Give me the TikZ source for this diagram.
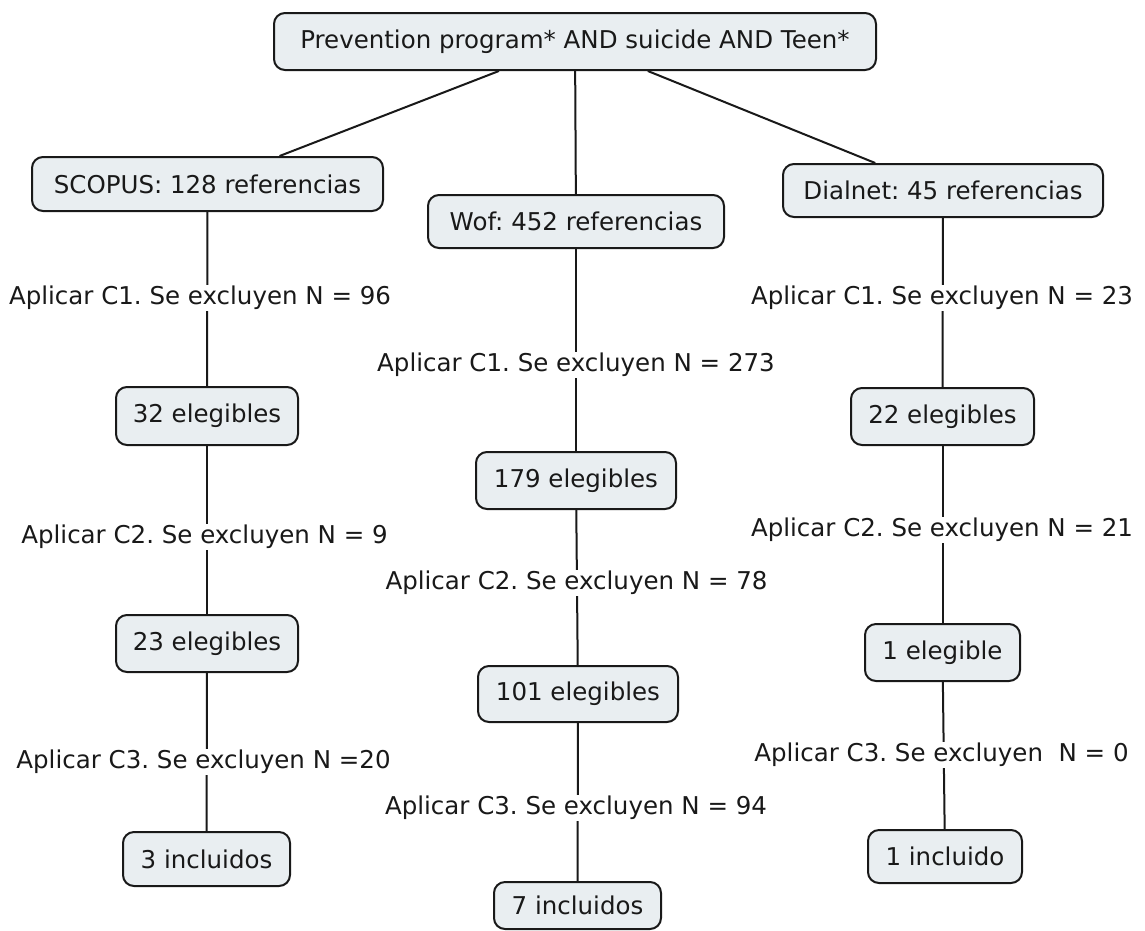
\documentclass[tikz,border=0pt]{standalone}
\usepackage{fontspec}
\setmainfont{DejaVu Sans}
\frenchspacing
\definecolor{boxfill}{RGB}{233,238,241}
\definecolor{boxline}{RGB}{25,25,25}
\tikzset{
  concept/.style={draw=boxline, line width=2pt, rounded corners=11pt, fill=boxfill,
    inner sep=0pt, font=\fontsize{24.5pt}{28pt}\selectfont, text=black!90},
  phrase/.style={fill=white, inner xsep=2pt, inner ysep=1.5pt,
    font=\fontsize{24.5pt}{28pt}\selectfont, text=black!90},
  link/.style={line width=2pt, draw=boxline}
}
\begin{document}
\begin{tikzpicture}[x=1pt,y=-1pt]
\useasboundingbox[fill=white] (0,0) rectangle (1145,930);
% concepts
\node[concept, minimum width=602pt, minimum height=57pt] (top) at (575,41.5) {Prevention program* AND suicide AND Teen*};
\node[concept, minimum width=351pt, minimum height=54pt] (scopus) at (207.5,184) {SCOPUS: 128 referencias};
\node[concept, minimum width=296pt, minimum height=53pt] (wof) at (576,221.5) {Wof: 452 referencias};
\node[concept, minimum width=320pt, minimum height=53pt] (dialnet) at (943,190.5) {Dialnet: 45 referencias};
\node[concept, minimum width=182pt, minimum height=58pt] (s32) at (207,416) {32 elegibles};
\node[concept, minimum width=182pt, minimum height=57pt] (s23) at (207,643.5) {23 elegibles};
\node[concept, minimum width=167pt, minimum height=54pt] (s3) at (206.5,859) {3 incluidos};
\node[concept, minimum width=200pt, minimum height=57pt] (w179) at (576,480.5) {179 elegibles};
\node[concept, minimum width=200pt, minimum height=56pt] (w101) at (578,694) {101 elegibles};
\node[concept, minimum width=167pt, minimum height=47pt] (w7) at (577.5,905.5) {7 incluidos};
\node[concept, minimum width=183pt, minimum height=57pt] (d22) at (942.5,416.5) {22 elegibles};
\node[concept, minimum width=155pt, minimum height=57pt] (d1) at (942.5,652.5) {1 elegible};
\node[concept, minimum width=154pt, minimum height=53pt] (d1i) at (945,856.5) {1 incluido};
% connectors
\draw[link] (top) -- (scopus);
\draw[link] (top) -- (wof);
\draw[link] (top) -- (dialnet);
\draw[link] (scopus) -- (s32);
\draw[link] (s32) -- (s23);
\draw[link] (s23) -- (s3);
\draw[link] (wof) -- (w179);
\draw[link] (w179) -- (w101);
\draw[link] (w101) -- (w7);
\draw[link] (dialnet) -- (d22);
\draw[link] (d22) -- (d1);
\draw[link] (d1) -- (d1i);
% linking phrases
\node[phrase] (l1) at (200,298) {Aplicar C1. Se excluyen N = 96};
\node[phrase] (l2) at (204.5,537) {Aplicar C2. Se excluyen N = 9};
\node[phrase] (l3) at (203.5,762) {Aplicar C3. Se excluyen N =20};
\node[phrase] (m1) at (576,365) {Aplicar C1. Se excluyen N = 273};
\node[phrase] (m2) at (576.5,583) {Aplicar C2. Se excluyen N = 78};
\node[phrase] (m3) at (576,808) {Aplicar C3. Se excluyen N = 94};
\node[phrase] (r1) at (942,298) {Aplicar C1. Se excluyen N = 23};
\node[phrase] (r2) at (942,530) {Aplicar C2. Se excluyen N = 21};
\node[phrase] (r3) at (941.5,755) {Aplicar C3. Se excluyen\ \ N = 0};
\end{tikzpicture}
\end{document}
